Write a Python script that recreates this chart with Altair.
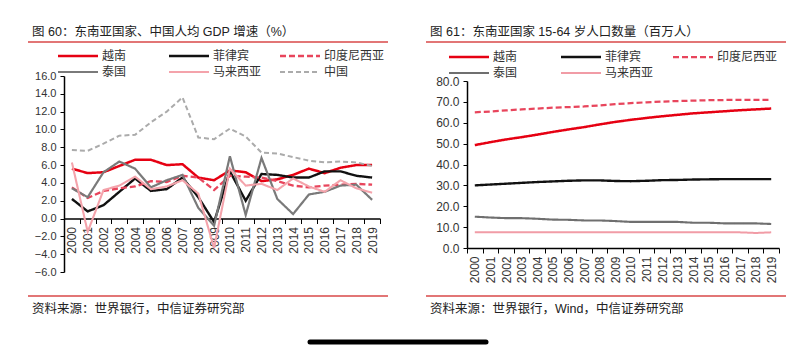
import altair as alt
import pandas as pd

FONT = "Liberation Sans, Noto Sans CJK SC"

years = [str(y) for y in range(2000, 2020)]

# Left chart: GDP per capita growth (%)
names_left = ["越南", "菲律宾", "印度尼西亚", "泰国", "马来西亚", "中国"]
gdp_vietnam = [5.6, 5.1, 5.2, 5.9, 6.6, 6.6, 6.0, 6.1, 4.6, 4.3, 5.4, 5.2, 4.2, 4.4, 4.9, 5.6, 5.1, 5.7, 6.0, 6.0]
gdp_philippines = [2.2, 0.8, 1.5, 3.0, 4.5, 3.1, 3.3, 4.6, 2.4, -0.4, 5.3, 2.0, 5.0, 4.9, 4.6, 4.6, 5.3, 5.3, 4.8, 4.6]
gdp_indonesia = [3.5, 2.3, 3.1, 3.4, 3.6, 4.2, 4.1, 4.8, 4.6, 3.2, 4.8, 4.7, 4.6, 4.2, 3.7, 3.5, 3.7, 3.8, 3.9, 3.8]
gdp_thailand = [3.4, 2.4, 5.2, 6.4, 5.6, 3.5, 4.3, 4.9, 1.2, -0.8, 7.0, 0.4, 6.8, 2.2, 0.5, 2.7, 3.0, 3.7, 3.8, 2.1]
gdp_malaysia = [6.3, -1.5, 3.2, 3.7, 4.7, 3.3, 3.6, 4.3, 2.8, -3.3, 5.6, 3.7, 3.9, 3.2, 4.5, 3.6, 3.0, 4.3, 3.4, 2.9]
gdp_china = [7.7, 7.6, 8.4, 9.3, 9.4, 10.8, 12.0, 13.6, 9.1, 8.9, 10.1, 9.2, 7.4, 7.3, 6.9, 6.5, 6.3, 6.4, 6.3, 5.9]
colors_left = ["#e60012", "#111111", "#e8455c", "#7a7a7a", "#f4a3ab", "#ababab"]
dashes_left = [[1, 0], [1, 0], [6, 3], [1, 0], [1, 0], [5, 3]]
widths_left = [2.5, 2, 2, 2, 1.8, 2]
left_y_ticks = [-6, -4, -2, 0, 2, 4, 6, 8, 10, 12, 14, 16]

# Right chart: population aged 15-64 (millions)
names_right = ["越南", "菲律宾", "印度尼西亚", "泰国", "马来西亚"]
pop_vietnam = [49.3, 50.7, 52.0, 53.1, 54.3, 55.6, 56.8, 57.9, 59.2, 60.4, 61.4, 62.3, 63.1, 63.8, 64.5, 65.0, 65.5, 66.0, 66.4, 66.8]
pop_philippines = [30.0, 30.4, 30.8, 31.2, 31.6, 31.9, 32.2, 32.4, 32.4, 32.1, 32.0, 32.2, 32.5, 32.6, 32.8, 32.9, 33.0, 33.0, 33.0, 33.0]
pop_indonesia = [65.0, 65.4, 65.9, 66.4, 66.8, 67.2, 67.5, 67.8, 68.3, 68.9, 69.4, 69.8, 70.1, 70.4, 70.6, 70.8, 70.9, 71.0, 71.0, 71.0]
pop_thailand = [15.0, 14.6, 14.3, 14.3, 14.0, 13.6, 13.5, 13.2, 13.2, 12.9, 12.5, 12.5, 12.5, 12.5, 12.1, 12.1, 11.8, 11.8, 11.8, 11.5]
pop_malaysia = [7.5, 7.5, 7.5, 7.5, 7.5, 7.5, 7.5, 7.5, 7.5, 7.5, 7.5, 7.5, 7.5, 7.5, 7.5, 7.5, 7.5, 7.5, 7.2, 7.5]
colors_right = ["#e60012", "#111111", "#e8455c", "#6f6f6f", "#f19ca6"]
dashes_right = [[1, 0], [1, 0], [6, 3], [1, 0], [1, 0]]
widths_right = [2.5, 2, 2, 2, 2]
right_y_ticks = [0, 10, 20, 30, 40, 50, 60, 70, 80]

title_left = "图 60：东南亚国家、中国人均 GDP 增速（%）"
title_right = "图 61：东南亚国家 15-64 岁人口数量（百万人）"
source_left = "资料来源：世界银行，中信证券研究部"
source_right = "资料来源：世界银行，Wind，中信证券研究部"


def long_df(names, series):
    rows = []
    for n, vals in zip(names, series):
        for y, v in zip(years, vals):
            rows.append({"year": y, "country": n, "value": v})
    return pd.DataFrame(rows)


df_left = long_df(names_left, [gdp_vietnam, gdp_philippines, gdp_indonesia, gdp_thailand, gdp_malaysia, gdp_china])
df_right = long_df(names_right, [pop_vietnam, pop_philippines, pop_indonesia, pop_thailand, pop_malaysia])


def x_enc(offset):
    return alt.X(
        "year:O",
        scale=alt.Scale(type="band", paddingInner=0, paddingOuter=0),
        bandPosition=0.5,
        axis=alt.Axis(
            title=None, labelAngle=270, tickBand="extent", offset=offset,
            labelFontSize=12, labelColor="#333333", labelFont=FONT,
            tickColor="#000000", domainColor="#000000", tickSize=5,
            labelPadding=3, domainWidth=1.5, tickWidth=1,
        ),
    )


def style_channels(names, colors, dashes, widths):
    return dict(
        color=alt.Color("country:N", sort=names, scale=alt.Scale(domain=names, range=colors), legend=None),
        strokeDash=alt.StrokeDash("country:N", sort=names, scale=alt.Scale(domain=names, range=dashes), legend=None),
        strokeWidth=alt.StrokeWidth("country:N", sort=names, scale=alt.Scale(domain=names, range=widths), legend=None),
    )


def legend_layers(names, colors, dashes, widths, x0, y0, pitch, rowh):
    ldf = pd.DataFrame({"country": names, "idx": list(range(len(names)))})
    base = alt.Chart(ldf).transform_calculate(
        lx=f"{x0} + (datum.idx % 3) * {pitch}",
        lx2=f"{x0} + (datum.idx % 3) * {pitch} + 40",
        tx=f"{x0} + (datum.idx % 3) * {pitch} + 44",
        ly=f"{y0} + floor(datum.idx / 3) * {rowh}",
    )
    sym = base.mark_rule().encode(
        x=alt.X("lx:Q", scale=None, axis=None),
        x2="lx2:Q",
        y=alt.Y("ly:Q", scale=None, axis=None),
        **style_channels(names, colors, dashes, widths),
    )
    lab = base.mark_text(align="left", baseline="middle", fontSize=12, font=FONT, color="#333333").encode(
        x=alt.X("tx:Q", scale=None, axis=None),
        y=alt.Y("ly:Q", scale=None, axis=None),
        text="country:N",
    )
    return [sym, lab]


def deco_layers(title, source, x0, x1):
    t = alt.Chart(pd.DataFrame({"t": [title]})).mark_text(
        align="left", baseline="middle", fontSize=12.5, font=FONT, color="#222222"
    ).encode(text="t:N", x=alt.value(x0 + 4), y=alt.value(-44))
    s = alt.Chart(pd.DataFrame({"t": [source]})).mark_text(
        align="left", baseline="middle", fontSize=12.5, font=FONT, color="#222222"
    ).encode(text="t:N", x=alt.value(x0 + 4), y=alt.value(233))
    top = alt.Chart(pd.DataFrame({"t": [0]})).mark_rule(color="#d94848", strokeWidth=1.5).encode(
        x=alt.value(x0), x2=alt.value(x1), y=alt.value(-34))
    bot = alt.Chart(pd.DataFrame({"t": [0]})).mark_rule(color="#e27676", strokeWidth=2).encode(
        x=alt.value(x0), x2=alt.value(x1), y=alt.value(220))
    return [t, s, top, bot]


lines_left = alt.Chart(df_left).mark_line().encode(
    x=x_enc(-53.5),
    y=alt.Y("value:Q", scale=alt.Scale(domain=[-6, 16], nice=False, zero=False),
            axis=alt.Axis(title=None, values=left_y_ticks, format=".1f", grid=False,
                          tickSize=4, labelFontSize=11, labelColor="#333333", labelFont=FONT,
                          tickColor="#000000", domainColor="#000000", domainWidth=1.5,
                          labelPadding=4)),
    **style_channels(names_left, colors_left, dashes_left, widths_left),
)

home_bar = alt.Chart(pd.DataFrame({"t": [0]})).mark_rule(color="#000000", strokeWidth=5, strokeCap="round").encode(
    x=alt.value(246), x2=alt.value(422), y=alt.value(266))

left = alt.layer(
    lines_left,
    *legend_layers(names_left, colors_left, dashes_left, widths_left, -6, -20, 111, 16),
    *deco_layers(title_left, source_left, -36, 324),
    home_bar,
).resolve_scale(x="independent", y="independent").properties(width=316, height=196)

lines_right = alt.Chart(df_right).mark_line().encode(
    x=x_enc(-24),
    y=alt.Y("value:Q", scale=alt.Scale(domain=[0, 80], range=[172, 5], nice=False),
            axis=alt.Axis(title=None, values=right_y_ticks, format=".1f", grid=False,
                          tickSize=4, labelFontSize=12, labelColor="#333333", labelFont=FONT,
                          tickColor="#000000", domainColor="#000000", domainWidth=1.5,
                          labelPadding=4)),
    **style_channels(names_right, colors_right, dashes_right, widths_right),
)

right = alt.layer(
    lines_right,
    *legend_layers(names_right, colors_right, dashes_right, widths_right, -18, -19, 112, 16),
    *deco_layers(title_right, source_right, -41, 319),
).resolve_scale(x="independent", y="independent").properties(width=312, height=196)

chart = alt.hconcat(left, right, spacing=87, bounds="flush").resolve_scale(
    color="independent", strokeDash="independent", strokeWidth="independent"
).configure_view(stroke=None).properties(
    padding={"left": 19, "top": 18, "right": 0, "bottom": 0}, background="white"
)

chart.save("out.html", embed_options={"renderer": "svg", "actions": False})
